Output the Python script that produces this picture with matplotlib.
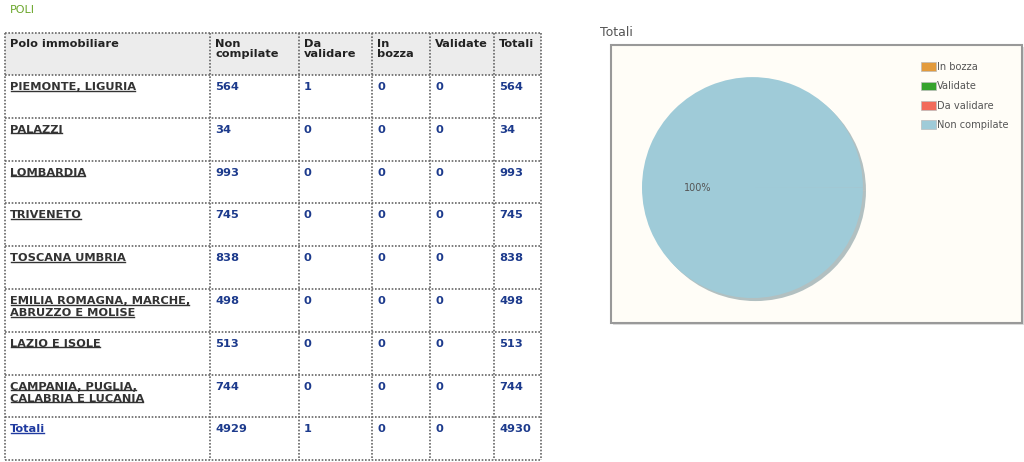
import matplotlib
matplotlib.use("Agg")
import matplotlib.pyplot as plt
from matplotlib.patches import Rectangle, Patch

# table data
header = ["Polo immobiliare", "Non\ncompilate", "Da\nvalidare", "In\nbozza", "Validate", "Totali"]
regions = ["PIEMONTE, LIGURIA", "PALAZZI", "LOMBARDIA", "TRIVENETO", "TOSCANA UMBRIA",
           "EMILIA ROMAGNA, MARCHE,\nABRUZZO E MOLISE", "LAZIO E ISOLE",
           "CAMPANIA, PUGLIA,\nCALABRIA E LUCANIA"]
non_compilate = [564, 34, 993, 745, 838, 498, 513, 744]
da_validare = [1, 0, 0, 0, 0, 0, 0, 0]
in_bozza = [0, 0, 0, 0, 0, 0, 0, 0]
validate = [0, 0, 0, 0, 0, 0, 0, 0]
totali = [564, 34, 993, 745, 838, 498, 513, 744]
totali_row = ["Totali", 4929, 1, 0, 0, 4930]

# pie data
pie_labels = ["In bozza", "Validate", "Da validare", "Non compilate"]
pie_values = [0, 0, 1, 4929]
pie_colors = ["#e39b3c", "#35a32c", "#f26b5b", "#9fcbd8"]

W, H = 1024, 462
fig = plt.figure(figsize=(W / 100, H / 100), dpi=100)
fig.patch.set_facecolor("white")

ax = fig.add_axes([0, 0, 1, 1])
ax.set_xlim(0, W)
ax.set_ylim(H, 0)
ax.axis("off")

ax.text(10, 10, "POLI", color="#6aa62a", fontsize=8, va="center", ha="left")

# table layout
col_w = [205, 89, 73, 58, 64, 47]
x0, y0 = 5, 33
head_h = 42
row_h = 42.8
col_x = [x0]
for w in col_w:
    col_x.append(col_x[-1] + w)
n_rows = len(regions) + 1
row_y = [y0, y0 + head_h] + [y0 + head_h + row_h * (i + 1) for i in range(n_rows)]

ax.add_patch(Rectangle((col_x[0], row_y[0]), col_x[-1] - col_x[0], head_h,
                       facecolor="#ececec", edgecolor="none", zorder=1))

grid_kw = dict(colors="#666666", linewidth=1.2, linestyles=(0, (1, 1)), zorder=3)
ax.hlines(row_y, col_x[0], col_x[-1], **grid_kw)
ax.vlines(col_x, row_y[0], row_y[-1], **grid_kw)

pad_x, pad_y = 5, 7
line_h = 12
fs = 8.2

for j, h in enumerate(header):
    ax.text(col_x[j] + pad_x, row_y[0] + pad_y - 1, h, fontsize=fs, fontweight="bold",
            color="#222222", va="top", ha="left", linespacing=0.95)

underlined = []
rows = list(zip(regions, non_compilate, da_validare, in_bozza, validate, totali))
rows.append(tuple(totali_row))
for i, row in enumerate(rows):
    top = row_y[i + 1] + pad_y
    is_total = i == len(rows) - 1
    name_color = "#1f3aa0" if is_total else "#333333"
    for k, line in enumerate(str(row[0]).split("\n")):
        t = ax.text(col_x[0] + pad_x, top + k * line_h, line, fontsize=fs, fontweight="bold",
                    color=name_color, va="top", ha="left")
        underlined.append((t, name_color))
    for j, v in enumerate(row[1:], start=1):
        ax.text(col_x[j] + pad_x, top, str(v), fontsize=fs, fontweight="bold",
                color="#1c3a8c", va="top", ha="left")

# underline the links
fig.canvas.draw()
rend = fig.canvas.get_renderer()
inv = ax.transData.inverted()
for t, c in underlined:
    bb = t.get_window_extent(rend)
    (xa, ya), (xb, yb) = inv.transform([(bb.x0, bb.y0), (bb.x1, bb.y0)])
    ax.plot([xa + 0.5, xb - 1], [ya - 1.5, yb - 1.5], color=c, linewidth=1.0, zorder=4)

# pie panel
ax.text(600, 33, "Totali", fontsize=9, color="#555555", va="center", ha="left")
ax.add_patch(Rectangle((613, 47), 411, 278, facecolor="#dddddd", edgecolor="none", zorder=1))
ax.add_patch(Rectangle((611, 45), 411, 278, facecolor="#fffdf7", edgecolor="#999999",
                       linewidth=1.5, zorder=2))

pax = fig.add_axes([642 / W, 1 - 298 / H, 222 / W, 222 / H])
pax.set_zorder(5)
pax.patch.set_visible(False)


def pct_label(p):
    return "%.0f%%" % p if p > 1 else ""


wedges, texts, autotexts = pax.pie(pie_values, colors=pie_colors, startangle=0,
                                   autopct=pct_label, pctdistance=0.5,
                                   wedgeprops=dict(linewidth=0),
                                   shadow=dict(ox=0.02, oy=-0.02, shade=0.35))
for a in autotexts:
    a.set_fontsize(7)
    a.set_color("#555555")
pax.set_xlim(-1.0, 1.01)
pax.set_ylim(-1.0, 1.01)

handles = [Patch(facecolor=c, edgecolor="#bbbbbb", linewidth=0.5) for c in pie_colors]
fig.legend(handles, pie_labels, loc="upper left", bbox_to_anchor=(917 / W, 1 - 58 / H),
           frameon=False, fontsize=7.1, labelcolor="#555555", handlelength=1.5,
           handleheight=0.95, handletextpad=0.1, labelspacing=0.95, borderaxespad=0)

fig.savefig("out.png", dpi=100, facecolor="white")
